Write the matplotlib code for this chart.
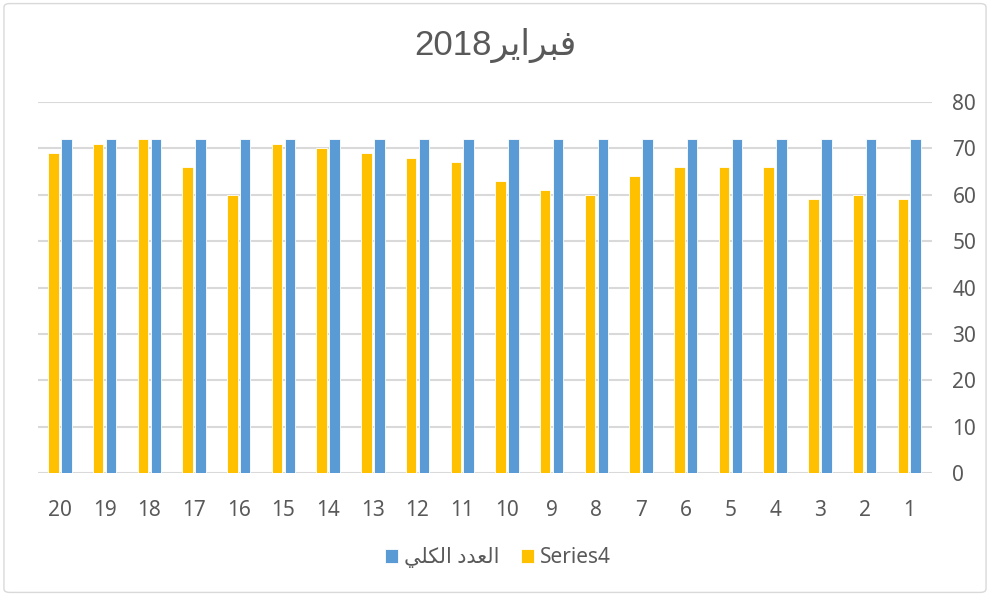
import matplotlib.pyplot as plt
from matplotlib.patches import FancyBboxPatch
import numpy as np

# categories 1..20 (axis is drawn right-to-left like the Excel original)
days = list(range(1, 21))
total_count = [72] * 20
series4 = [59, 60, 59, 66, 66, 66, 64, 60, 61, 63,
           67, 68, 69, 70, 71, 60, 66, 72, 71, 69]

# Arabic text written in presentation forms, visual order (matplotlib has no shaping)
title_text = "2018" + "\uFEAE\uFEF3\uFE8D\uFEAE\uFE92\uFED3"          # فبراير2018
legend_total = ("\uFEF2\uFEE0\uFEDC\uFEDF\uFE8D" + " " +
                "\uFEA9\uFEAA\uFECC\uFEDF\uFE8D")                      # العدد الكلي
legend_s4 = "Series4"

blue = "#5B9BD5"
orange = "#FFC000"
grey_text = "#595959"

plt.rcParams['font.family'] = ['Noto Sans', 'DejaVu Sans']

fig = plt.figure(figsize=(9.9, 5.96), dpi=100)
ax = fig.add_axes([0.038, 0.206, 0.903, 0.623])

x = np.arange(len(days))
w = 0.235
off = 0.145
ax.bar(x - off, total_count, width=w, color=blue, edgecolor="white",
       linewidth=0.6, label=legend_total, zorder=3)
ax.bar(x + off, series4, width=w, color=orange, edgecolor="white",
       linewidth=0.6, label=legend_s4, zorder=3)

ax.set_xlim(-0.5, len(days) - 0.5)
ax.invert_xaxis()
ax.set_ylim(0, 80)
ax.set_yticks(range(0, 81, 10))
ax.set_xticks(x)
ax.set_xticklabels([str(d) for d in days])

ax.yaxis.tick_right()
ax.tick_params(axis="both", length=0, labelsize=15, colors=grey_text)
ax.tick_params(axis="x", pad=19)
ax.tick_params(axis="y", pad=15)
ax.grid(axis="y", color="#D9D9D9", linewidth=1.5, zorder=0)
for s in ax.spines.values():
    s.set_visible(False)

fig.suptitle(title_text, y=0.953, fontsize=25, color=grey_text,
             family=['Liberation Sans', 'DejaVu Sans'])

leg = fig.legend(loc="center", bbox_to_anchor=(0.503, 0.064), ncol=2,
                 frameon=False, fontsize=15, handlelength=0.62,
                 handleheight=0.62, handletextpad=0.3, columnspacing=1.05)
for t in leg.get_texts():
    t.set_color(grey_text)

# light rounded border round the chart area
border = FancyBboxPatch((0.004, 0.006), 0.992, 0.988,
                        boxstyle="round,pad=0,rounding_size=0.006",
                        transform=fig.transFigure, fill=False,
                        edgecolor="#D9D9D9", linewidth=1.0)
fig.patches.append(border)

fig.savefig("out.png", dpi=100, facecolor="white")
